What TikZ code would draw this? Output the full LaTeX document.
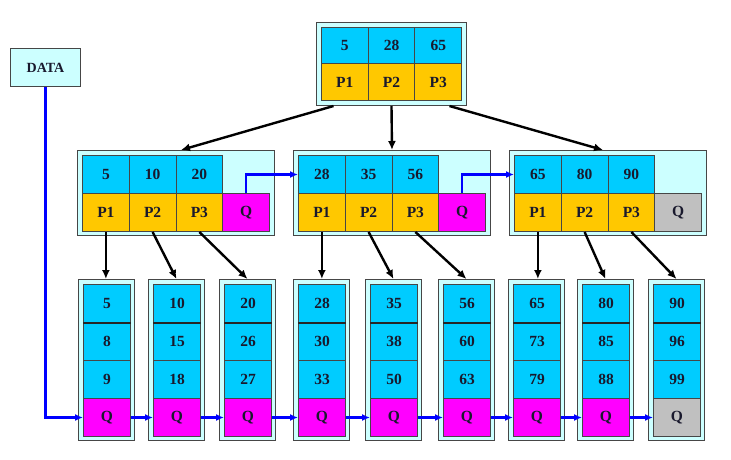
\documentclass[tikz,border=0pt]{standalone}
\usepackage{fontspec}
\setmainfont{Liberation Serif}
\usetikzlibrary{arrows.meta,calc}
\definecolor{keyc}{RGB}{0,204,255}
\definecolor{ptrc}{RGB}{255,200,0}
\definecolor{qc}{RGB}{255,0,255}
\definecolor{greyc}{RGB}{192,192,192}
\definecolor{bgc}{RGB}{204,255,255}
\definecolor{edgec}{RGB}{70,70,70}
\definecolor{txtc}{RGB}{25,25,45}
\definecolor{linkc}{RGB}{0,0,255}
\begin{document}
\begin{tikzpicture}[x=1pt,y=-1pt,
  cell/.style={draw=edgec, line width=1pt, anchor=north west, inner sep=0pt,
    font=\bfseries\fontsize{15.5}{15.5}\selectfont, text=txtc},
  key/.style={cell, fill=keyc},
  ptr/.style={cell, fill=ptrc},
  outer/.style={draw=edgec, line width=1pt, fill=bgc, anchor=north west, inner sep=0pt},
  tree/.style={line width=2.4pt, draw=black, -{Latex[length=9pt,width=8pt]}},
  link/.style={line width=2.6pt, draw=linkc, -{Latex[length=8pt,width=7pt]}}]
\useasboundingbox[fill=white] (0,0) rectangle (731,459);

% DATA
\node[outer, minimum width=70pt, minimum height=38pt,
  font=\bfseries\fontsize{14}{14}\selectfont, text=txtc, anchor=north west] (data) at (10,48) {DATA};

% root
\node[outer, minimum width=150pt, minimum height=83pt] (root) at (316,22) {};
\foreach \t [count=\i] in {5,28,65} {
  \node[key, minimum width=46.7pt, minimum height=36pt] (rk\i) at ({321+46.7*(\i-1)},27) {\t};
  \node[ptr, minimum width=46.7pt, minimum height=37pt] (rp\i) at ({321+46.7*(\i-1)},63) {P\i};
}

% middle level
\foreach \L/\m/\a/\b/\c/\qcol in {77/1/5/10/20/qc, 293/2/28/35/56/qc, 509/3/65/80/90/greyc} {
  \node[outer, minimum width=197pt, minimum height=85pt] (m\m) at (\L,150) {};
  \foreach \t [count=\i] in {\a,\b,\c} {
    \node[key, minimum width=46.75pt, minimum height=38pt] (m\m-k\i) at ({\L+5+46.75*(\i-1)},155) {\t};
    \node[ptr, minimum width=46.75pt, minimum height=38pt] (m\m-p\i) at ({\L+5+46.75*(\i-1)},193) {P\i};
  }
  \node[cell, fill=\qcol, minimum width=46.75pt, minimum height=38pt] (m\m-q) at ({\L+5+46.75*3},193) {Q};
}

% leaves
\foreach \X/\a/\b/\c/\qcol [count=\n] in {78/5/8/9/qc, 148/10/15/18/qc, 219/20/26/27/qc,
    293/28/30/33/qc, 365/35/38/50/qc, 438/56/60/63/qc, 508/65/73/79/qc,
    577/80/85/88/qc, 648/90/96/99/greyc} {
  \node[outer, minimum width=56pt, minimum height=161pt] (l\n) at (\X,279) {};
  \node[key, minimum width=47pt, minimum height=38pt] (l\n-1) at (\X+5,284) {\a};
  \node[key, minimum width=47pt, minimum height=38pt] (l\n-2) at (\X+5,322) {\b};
  \node[key, minimum width=47pt, minimum height=38pt] (l\n-3) at (\X+5,360) {\c};
  \node[cell, fill=\qcol, minimum width=47pt, minimum height=38pt] (l\n-q) at (\X+5,398) {Q};
  \draw[line width=1.5pt, draw=black!85] (l\n-1.south west) -- (l\n-1.south east);
}

% root to middle
\draw[tree] ([xshift=-58pt]root.south) -- ([xshift=5pt]m1.north);
\draw[tree] (root.south) -- (m2.north);
\draw[tree] ([xshift=58pt]root.south) -- ([xshift=-5pt]m3.north);

% middle to leaves
\foreach \m in {1,2,3} {
  \pgfmathtruncatemacro\lf{3*(\m-1)+1}
  \draw[tree] (m\m-p1.south) -- (m\m-p1.south |- l\lf.north);
  \foreach \i in {2,3} {
    \pgfmathtruncatemacro\lf{3*(\m-1)+\i}
    \draw[tree] (m\m-p\i.south) -- (l\lf.north);
  }
}

% blue links
\draw[link] (data.south) |- (l1-q.west);
\draw[link] (m1-q.north) |- (m2-k1.west);
\draw[link] (m2-q.north) |- (m3-k1.west);
\foreach \n [evaluate=\n as \nn using int(\n+1)] in {1,...,8} {
  \draw[link] (l\n-q.east) -- (l\nn-q.west);
}
\end{tikzpicture}
\end{document}
